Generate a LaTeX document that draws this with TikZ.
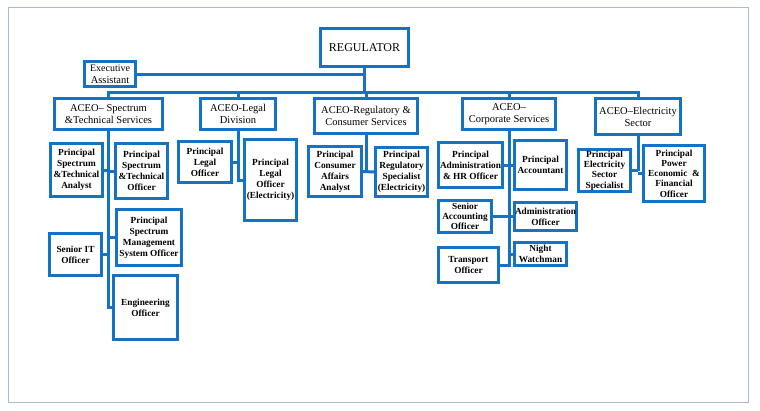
\documentclass[tikz,border=0pt]{standalone}
\usepackage{fontspec}
\setmainfont{Liberation Serif}
\definecolor{bblue}{RGB}{22,114,196}
\definecolor{framec}{RGB}{172,186,206}
\newcommand\obox[7]{%
  \pgfmathsetmacro\obw{#5-#3-3}%
  \pgfmathsetmacro\obh{#6-#4-3}%
  \pgfmathsetmacro\obcx{(#3+#5)/2}%
  \pgfmathsetmacro\obcy{-(#4+#6)/2}%
  \node[#1, minimum width=\obw pt, minimum height=\obh pt] (#2) at (\obcx,\obcy) {#7};}
\begin{document}
\begin{tikzpicture}[x=1pt,y=1pt,
  box/.style={draw=bblue, line width=3pt, fill=white, align=center, inner sep=0.5pt, text=black},
  child/.style={box, font=\bfseries\fontsize{9.3}{11}\selectfont},
  tight/.style={box, font=\bfseries\fontsize{9.3}{10.2}\selectfont},
  head/.style={box, font=\fontsize{10.5}{12}\selectfont},
  top/.style={box, font=\fontsize{12}{14}\selectfont},
  conn/.style={draw=bblue, line width=3pt}]
\useasboundingbox (0,0) rectangle (760,-410);
\fill[white] (0,0) rectangle (760,-410);
\draw[framec, line width=1pt] (8,-7) rectangle (748,-402);

% top level
\obox{top}{reg}{319}{27}{410}{68}{REGULATOR}
\obox{head}{ea}{83}{60}{137}{88}{\fontsize{10}{11.5}\selectfont Executive\\Assistant}
\obox{head}{spec}{53}{97}{164}{131}{ACEO-- Spectrum\\\&Technical Services}
\obox{head}{legal}{199}{97}{277}{131}{ACEO-Legal\\Division}
\obox{head}{regs}{313}{97}{419}{135}{ACEO-Regulatory \&\\Consumer Services}
\obox{head}{corp}{461}{97}{557}{131}{ACEO--\\Corporate Services}
\obox{head}{elec}{594}{97}{682}{136}{ACEO--Electricity\\Sector}

% spectrum
\obox{child}{psta}{49}{142}{104}{198}{Principal\\Spectrum\\\&Technical\\Analyst}
\obox{child}{psto}{114}{142}{169}{200}{Principal\\Spectrum\\\&Technical\\Officer}
\obox{child}{psmso}{115}{208}{183}{267}{Principal\\Spectrum\\Management\\System Officer}
\obox{child}{sit}{48}{232}{103}{277}{Senior IT\\Officer}
\obox{child}{eng}{112}{274}{179}{341}{Engineering\\Officer}

% legal
\obox{child}{plo}{177}{140}{233}{184}{Principal\\Legal\\Officer}
\obox{child}{ploe}{243}{138}{298}{222}{Principal\\Legal\\Officer\\(Electricity)}

% regulatory
\obox{child}{pcaa}{307}{145}{363}{198}{Principal\\Consumer\\Affairs\\Analyst}
\obox{child}{prse}{374}{146}{429}{198}{Principal\\Regulatory\\Specialist\\(Electricity)}

% corporate
\obox{child}{pahr}{437}{141}{504}{189}{Principal\\Administration\\\& HR Officer}
\obox{child}{pa}{513}{139}{568}{191}{Principal\\Accountant}
\obox{tight}{sao}{437}{199}{493}{234}{Senior\\Accounting\\Officer}
\obox{child}{ao}{513}{201}{578}{232}{Administration\\Officer}
\obox{child}{to}{437}{246}{500}{284}{Transport\\Officer}
\obox{child}{nw}{513}{241}{568}{267}{Night\\Watchman}

% electricity
\obox{tight}{pess}{577}{148}{632}{193}{Principal\\Electricity\\Sector\\Specialist}
\obox{tight}{ppef}{642}{144}{706}{203}{Principal\\Power\\Economic \ \&\\Financial\\Officer}

% connectors
\coordinate (busy) at (0,-92);
\draw[conn] (spec.north) |- (busy -| elec.north) -- (elec.north);
\draw[conn] (legal.north) -- (legal.north |- busy);
\draw[conn] (corp.north) -- (corp.north |- busy);
\draw[conn] (reg.south) -- (reg.south |- busy);
\draw[conn] (regs.north) -- (regs.north |- busy);
\draw[conn] (ea.east) -- (ea.east -| reg.south);

\draw[conn] (spec.south) |- (eng.west);
\draw[conn] (psta.east) -- (psta.east -| spec.south);
\draw[conn] (psto.west) -- (psto.west -| spec.south);
\draw[conn] (psmso.west) -- (psmso.west -| spec.south);
\draw[conn] (sit.east) -- (sit.east -| spec.south);

\draw[conn] (legal.south) |- (ploe.west);
\draw[conn] (plo.east) -- (plo.east -| legal.south);

\draw[conn] (regs.south) -- (regs.south |- pcaa.east);
\draw[conn] (pcaa.east) -- (prse.west);

\draw[conn] (corp.south) |- (to.east);
\draw[conn] (pahr.east) -- (pa.west);
\draw[conn] (sao.east) -- (ao.west);
\draw[conn] (nw.west) -- (nw.west -| corp.south);

\draw[conn] (elec.south) -- (elec.south |- pess.east);
\draw[conn] (pess.east) -- (pess.east -| elec.south);
\draw[conn] (ppef.west) -- (ppef.west -| elec.south);
\end{tikzpicture}
\end{document}
